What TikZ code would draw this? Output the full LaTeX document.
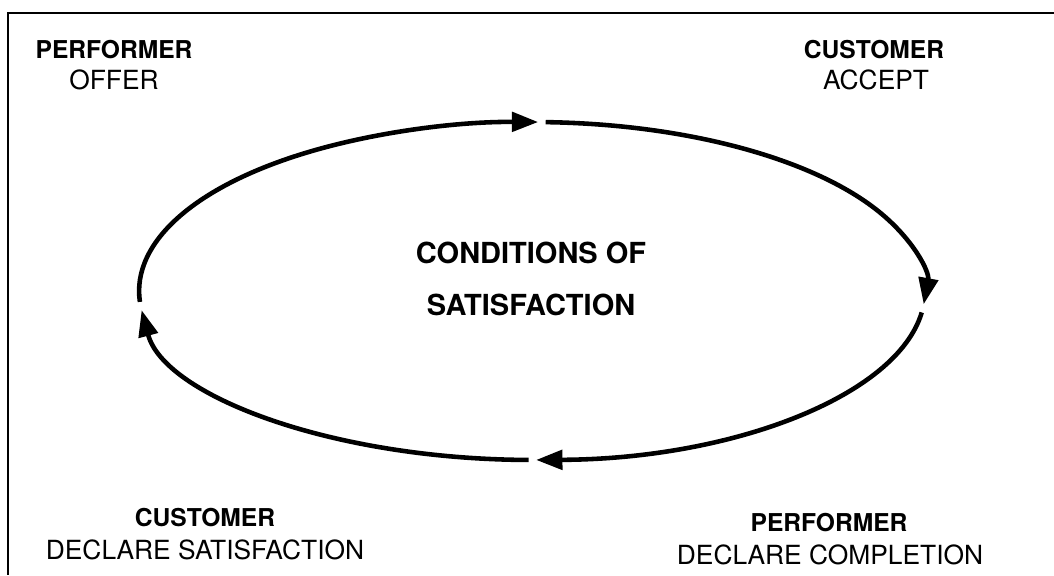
\documentclass[tikz,border=0pt]{standalone}
\usepackage{fontspec}
\setmainfont{TeX Gyre Heros}
\usetikzlibrary{arrows.meta}
\tikzset{>={Triangle[length=15pt,width=11pt]},every node/.style={inner sep=0pt},flow/.style={line width=2.6pt,->},frame/.style={line width=1.5pt},role/.style={font=\fontsize{14}{16}\selectfont\bfseries},act/.style={font=\fontsize{15}{17}\selectfont},core/.style={font=\fontsize{16.5}{19}\selectfont\bfseries},orbit/.style={x radius=7.86cm,y radius=3.38cm}}

\begin{document}
\begin{tikzpicture}[x=0.02cm,y=0.02cm]
\useasboundingbox (0,0) rectangle (1054,575);
\draw[frame] (1054,562)--(8,562)--(8,0);
\coordinate (c) at (532,284);
\draw[flow] (c) ++(183.7:7.86cm and 3.38cm) arc[orbit,start angle=183.7,end angle=89.1];
\draw[flow] (c) ++(88:7.86cm and 3.38cm) arc[orbit,start angle=88,end angle=-4.5];
\draw[flow] (c) ++(-7.3:7.86cm and 3.38cm) arc[orbit,start angle=-7.3,end angle=-89.4];
\draw[flow] (c) ++(-90.5:7.86cm and 3.38cm) arc[orbit,start angle=-90.5,end angle=-173.5];
\node[role] (perfA) at (114,525){PERFORMER};\node[act] (offer) at (114,495){OFFER};
\node[role] (custA) at (874,525){CUSTOMER};\node[act] (accept) at (876,495){ACCEPT};
\node[core] (cos1) at (531,322){CONDITIONS OF};\node[core] (cos2) at (531,270){SATISFACTION};
\node[role] (custB) at (205,57){CUSTOMER};\node[act] (declsat) at (205,25){DECLARE SATISFACTION};
\node[role] (perfB) at (829,52){PERFORMER};\node[act] (declcomp) at (830,20){DECLARE COMPLETION};
\end{tikzpicture}
\end{document}
